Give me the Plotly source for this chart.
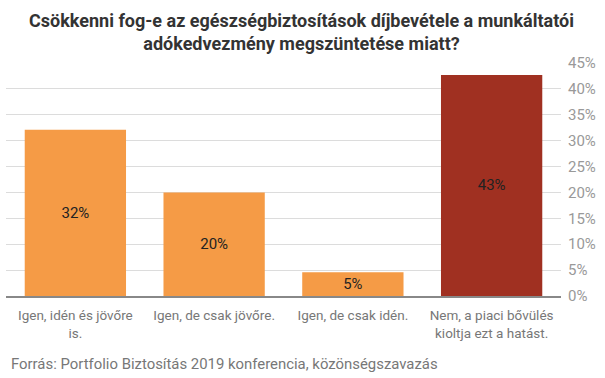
import plotly.graph_objects as go

categories = ["Igen, idén és jövőre<br>is.", "Igen, de csak jövőre.", "Igen, de csak idén.", "Nem, a piaci bővülés<br>kioltja ezt a hatást."]
values = [32.1, 20.0, 4.6, 42.7]
labels = ["32%", "20%", "5%", "43%"]
colors = ["#F59B46", "#F59B46", "#F59B46", "#A03021"]
tick_vals = [0, 5, 10, 15, 20, 25, 30, 35, 40, 45]
tick_text = [f"{v}%" for v in tick_vals]

title = "Csökkenni fog-e az egészségbiztosítások díjbevétele a munkáltatói<br>adókedvezmény megszüntetése miatt?"
source = "Forrás: Portfolio Biztosítás 2019 konferencia, közönségszavazás"

fig = go.Figure(go.Bar(
    x=categories, y=values, marker=dict(color=colors, line=dict(width=0)),
    text=labels, textposition="inside", insidetextanchor="middle",
    textfont=dict(family="Roboto", size=15, color="#222"),
    hoverinfo="skip",
))

fig.update_layout(
    width=605, height=378,
    margin=dict(l=6, r=44, t=63, b=82),
    paper_bgcolor="white", plot_bgcolor="white",
    bargap=0.27,
    showlegend=False,
    xaxis=dict(tickfont=dict(family="Roboto", size=13.5, color="#777"), showgrid=False,
               showline=True, linecolor="#888", linewidth=1.5, ticks="", automargin=False,
               ticklabelstandoff=6),
    yaxis=dict(side="right", range=[0, 45], tickvals=tick_vals, ticktext=tick_text,
               tickfont=dict(family="Roboto", size=15, color="#999"),
               showgrid=True, gridcolor="#dcdcdc", gridwidth=1, zeroline=False, ticks="",
               automargin=False, ticklabelstandoff=6),
    annotations=[
        dict(text="<b>" + title + "</b>", xref="paper", yref="paper", x=0.533, y=1.131,
             xanchor="center", yanchor="middle", showarrow=False,
             font=dict(family="Roboto", size=18, color="#333")),
        dict(text=source, xref="paper", yref="paper", x=0.005, y=-0.29,
             xanchor="left", yanchor="middle", showarrow=False,
             font=dict(family="Roboto", size=14.9, color="#777")),
    ],
    font=dict(family="Roboto"),
)

fig.write_html("out.html", post_script="document.body.style.margin='0';",
               config={"displayModeBar": False})
